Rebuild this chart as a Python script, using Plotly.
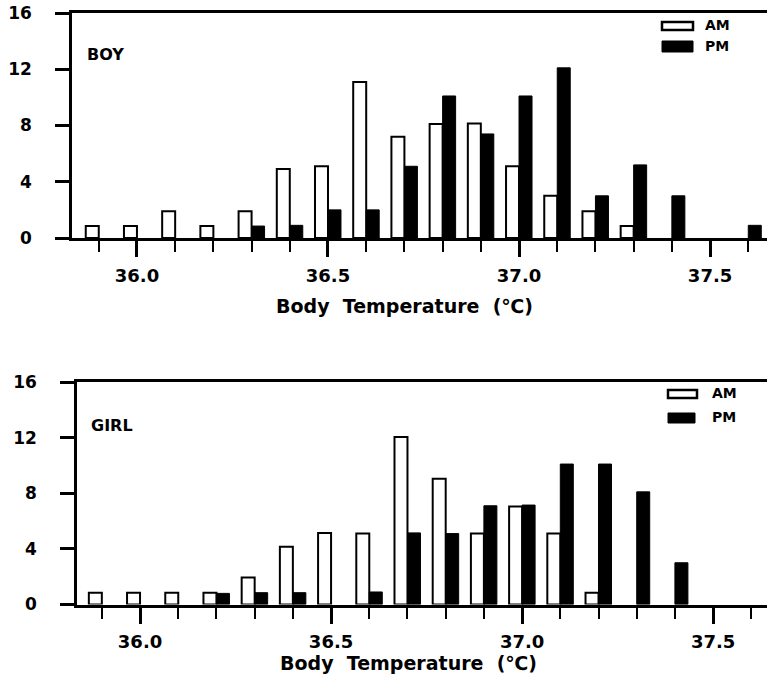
import plotly.graph_objects as go

# ---------------- data ----------------
temps = [35.9, 36.0, 36.1, 36.2, 36.3, 36.4, 36.5, 36.6, 36.7,
         36.8, 36.9, 37.0, 37.1, 37.2, 37.3, 37.4, 37.5, 37.6]

boy_am = [0.85, 0.85, 1.9, 0.85, 1.9, 4.9, 5.1, 11.1, 7.2,
          8.1, 8.15, 5.1, 3.0, 1.9, 0.85, None, None, None]
boy_pm = [None, None, None, None, 0.85, 0.9, 2.0, 2.0, 5.1,
          10.1, 7.4, 10.1, 12.1, 3.0, 5.2, 3.0, None, 0.9]

girl_am = [0.85, 0.85, 0.85, 0.85, 1.95, 4.15, 5.15, 5.1, 12.05,
           9.05, 5.1, 7.05, 5.1, 0.85, None, None, None, None]
girl_pm = [None, None, None, 0.8, 0.85, 0.85, None, 0.9, 5.15,
           5.1, 7.1, 7.15, 10.1, 10.1, 8.1, 3.0, None, None]

y_ticks = [0, 4, 8, 12, 16]
x_major = [36.0, 36.5, 37.0, 37.5]
panel_names = ["BOY", "GIRL"]
series_names = ["AM", "PM"]
x_title = "Body\u00a0 Temperature\u00a0 (℃)"

# ---------------- figure ----------------
W, H = 767, 689
FONT = "DejaVu Sans"

fig = go.Figure()

def add_panel(am, pm, xa, ya):
    fig.add_trace(go.Bar(x=temps, y=am, name=series_names[0], xaxis=xa, yaxis=ya,
                         marker=dict(color="white", line=dict(color="black", width=2)),
                         showlegend=False))
    fig.add_trace(go.Bar(x=temps, y=pm, name=series_names[1], xaxis=xa, yaxis=ya,
                         marker=dict(color="black", line=dict(color="black", width=1)),
                         showlegend=False))

add_panel(boy_am, boy_pm, "x", "y")
add_panel(girl_am, girl_pm, "x2", "y2")

def px(x):
    return x / W

def py(y):
    return 1 - y / H

def xaxis_cfg(dom, rng, anchor):
    return dict(
        domain=dom, range=rng, anchor=anchor, automargin=False,
        showline=True, linecolor="black", linewidth=3,
        mirror=True, showgrid=False, zeroline=False,
        ticks="outside", ticklen=16, tickwidth=2.5, tickcolor="black",
        tickmode="array", tickvals=x_major, ticktext=[f"{v:.1f}" for v in x_major],
        minor=dict(ticks="outside", dtick=0.1, tick0=36.0, ticklen=11,
                   tickwidth=2, tickcolor="black", showgrid=False),
        tickfont=dict(family=FONT, size=18, color="black", weight="bold"),
        ticklabelstandoff=3, fixedrange=True,
    )

def yaxis_cfg(dom, anchor):
    return dict(
        domain=dom, range=[0, 16], anchor=anchor, automargin=False,
        showline=True, linecolor="black", linewidth=2.5,
        showgrid=False, zeroline=False,
        ticks="outside", ticklen=14, tickwidth=2.5, tickcolor="black",
        tickmode="array", tickvals=y_ticks, ticktext=[str(v) for v in y_ticks],
        tickfont=dict(family=FONT, size=17, color="black", weight="bold"),
        ticklabelstandoff=20, fixedrange=True,
    )

fig.update_layout(
    template="none",
    width=W, height=H, autosize=False,
    margin=dict(l=0, r=0, t=0, b=0, pad=0),
    paper_bgcolor="white", plot_bgcolor="white",
    barmode="group", bargap=0.32, bargroupgap=0.0,
    showlegend=False,
    xaxis=xaxis_cfg([px(72), 1.0], [35.830, 37.649], "y"),
    yaxis=yaxis_cfg([py(238), py(13)], "x"),
    xaxis2=xaxis_cfg([px(77), 1.0], [35.835, 37.641], "y2"),
    yaxis2=yaxis_cfg([py(604.5), py(382)], "x2"),
)

annotations = []
shapes = []

# panel labels
annotations.append(dict(text=panel_names[0], x=px(85), y=py(55), xref="paper", yref="paper",
                        xanchor="left", yanchor="middle", showarrow=False,
                        font=dict(family=FONT, size=16, color="black", weight="bold")))
annotations.append(dict(text=panel_names[1], x=px(89), y=py(425), xref="paper", yref="paper",
                        xanchor="left", yanchor="middle", showarrow=False,
                        font=dict(family=FONT, size=16, color="black", weight="bold")))

# x titles
for cx, cy in [(404, 306), (408, 663)]:
    annotations.append(dict(text=x_title, x=px(cx), y=py(cy), xref="paper", yref="paper",
                            xanchor="center", yanchor="middle", showarrow=False,
                            font=dict(family=FONT, size=19, color="black", weight="bold")))

# manual legends
legend_specs = [
    ((662, 22, 693, 30), (662, 41, 693, 52), (703, 25), (703, 46)),
    ((668, 390, 697, 398), (668, 413, 695, 423), (710, 393), (710, 417)),
]
for am_box, pm_box, am_t, pm_t in legend_specs:
    x0, y0, x1, y1 = am_box
    shapes.append(dict(type="rect", xref="paper", yref="paper",
                       x0=px(x0), x1=px(x1), y0=py(y1), y1=py(y0),
                       fillcolor="white", line=dict(color="black", width=2.5)))
    x0, y0, x1, y1 = pm_box
    shapes.append(dict(type="rect", xref="paper", yref="paper",
                       x0=px(x0), x1=px(x1), y0=py(y1), y1=py(y0),
                       fillcolor="black", line=dict(color="black", width=1)))
    for (tx, ty), name in [(am_t, series_names[0]), (pm_t, series_names[1])]:
        annotations.append(dict(text=name, x=px(tx), y=py(ty), xref="paper", yref="paper",
                                xanchor="left", yanchor="middle", showarrow=False,
                                font=dict(family=FONT, size=14, color="black", weight="bold")))

fig.update_layout(annotations=annotations, shapes=shapes)

fig.write_html("out.html")
